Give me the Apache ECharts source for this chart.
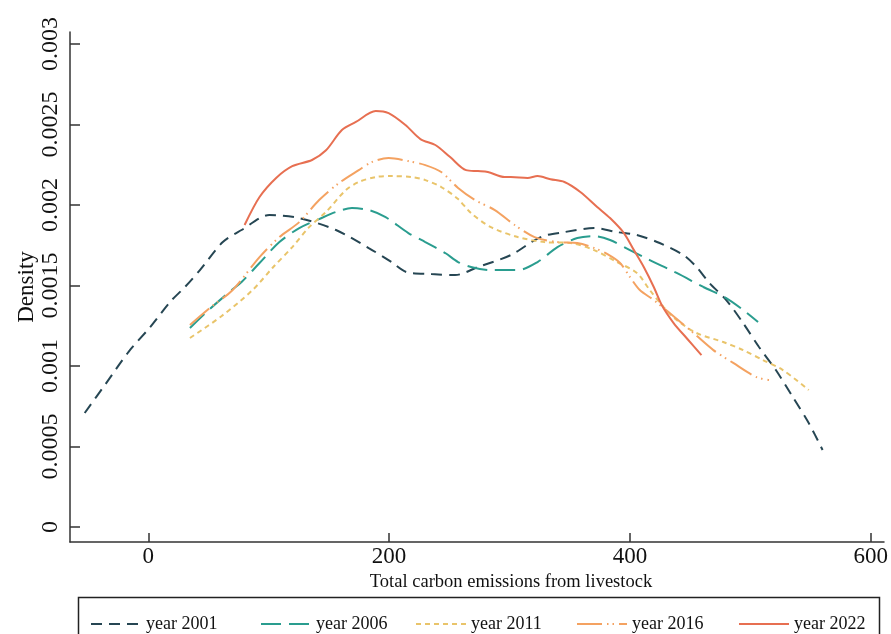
<!DOCTYPE html>
<html>
<head>
<meta charset="utf-8">
<script src="https://cdn.jsdelivr.net/npm/echarts@6/dist/echarts.min.js"></script>
<style>html,body{margin:0;padding:0;background:#fff}#c{width:891px;height:634px}</style>
</head>
<body>
<div id="c"></div>
<script>
// ---- data ----
const seriesNames = ['year 2001', 'year 2006', 'year 2011', 'year 2016', 'year 2022'];

const x2001 = [-52.8,-35.5,-16.5,1.6,18.1,30.5,42.9,61.9,77.5,100.6,125.4,155.9,183.1,202,214.4,235,254.8,273.8,301,325.8,345.6,370.3,389.3,405.8,424.7,444.5,455.3,466,480,494,507.2,521.2,535.3,548.5,560];
const y2001 = [0.000708,0.000888,0.001087,0.001242,0.001398,0.001491,0.001596,0.00177,0.001845,0.001938,0.001919,0.001845,0.001733,0.001646,0.001584,0.001571,0.001565,0.001615,0.001689,0.001801,0.001832,0.001857,0.001832,0.001814,0.001764,0.001689,0.001615,0.001516,0.00141,0.001267,0.001118,0.000975,0.000807,0.000646,0.000478];

const x2006 = [34.6,51.1,69.3,77.5,92.4,108.9,125.4,141.9,155.9,169.1,183.1,197.1,216,230.1,246.6,257.3,268,284.5,306.8,323.3,339.8,356.3,370.3,383.5,400,416.5,438.8,461,480,494,506.4];
const y2006 = [0.001236,0.001354,0.001472,0.001522,0.00164,0.00177,0.001857,0.001913,0.001957,0.001981,0.001969,0.001925,0.001826,0.00177,0.001702,0.001646,0.001615,0.001596,0.001596,0.001646,0.001739,0.001795,0.001807,0.001783,0.00172,0.001658,0.001578,0.001491,0.001422,0.001348,0.001273];

const x2011 = [34.6,61,86.6,103.1,119.6,133.6,147.6,164.1,174.8,188.9,202,218.6,230.1,243.3,257.3,268,284.5,306.8,329.1,350.5,370.3,389.3,405.8,416.5,428,438.8,455.3,477.5,494,510.5,527,548.5];
const y2011 = [0.001174,0.001311,0.001472,0.001609,0.001739,0.001863,0.001957,0.002093,0.002143,0.002174,0.00218,0.002174,0.002155,0.002112,0.002037,0.00195,0.001863,0.001801,0.00177,0.001764,0.00172,0.001646,0.001578,0.001472,0.001366,0.001286,0.001205,0.001149,0.001099,0.001037,0.000975,0.000851];

const x2016 = [34.6,52,70.1,92.4,108.9,125.4,141.9,158.4,174.8,185.6,199.6,216,230.1,243.3,257.3,271.3,287.8,304.3,320.8,339.8,356.3,370.3,381,391.8,400,408.2,419.8,433,452.8,469.3,485.8,504.7,515.5];
const y2016 = [0.001255,0.001366,0.001472,0.001677,0.001801,0.001894,0.002031,0.002137,0.002217,0.002267,0.002292,0.002273,0.002248,0.002205,0.002106,0.002031,0.001969,0.001876,0.001801,0.00177,0.001764,0.001733,0.001696,0.00164,0.001553,0.001472,0.00141,0.001329,0.001205,0.001099,0.001019,0.000932,0.000913];

const x2022 = [80,92.4,106.4,119.6,136,147.6,160.8,172.4,188.9,199.6,213.6,226,238.4,250.7,263.9,273.8,282,296,301,315,323.3,334,345.6,358.8,372.8,383.5,395,403.3,411.5,419.8,426.4,436.3,447,459.4];
const y2022 = [0.001876,0.00205,0.00217,0.002242,0.00228,0.00234,0.002466,0.002516,0.002584,0.002571,0.002497,0.00241,0.002373,0.002298,0.002217,0.002211,0.002205,0.002174,0.002174,0.002168,0.00218,0.00216,0.002143,0.002081,0.001988,0.001919,0.001826,0.00172,0.001615,0.001491,0.001379,0.001267,0.001174,0.001068];

const xTicks = [0, 200, 400, 600];
const xTickLabels = ['0', '200', '400', '600'];
const yTicks = [0, 0.0005, 0.001, 0.0015, 0.002, 0.0025, 0.003];
const yTickLabels = ['0', '0.0005', '0.001', '0.0015', '0.002', '0.0025', '0.003'];

// ---- chart ----
const xs = [x2001, x2006, x2011, x2016, x2022];
const ys = [y2001, y2006, y2011, y2016, y2022];
const colors = ['#264653', '#2a9d8f', '#e9c46a', '#f4a261', '#e76f51'];
const dashes = [[11, 7], [20, 8], [5, 4], [25, 5, 1.5, 4, 1.5, 5], 'solid'];
const legendLeft = [85, 255, 410, 571, 733];
const FONT = '"Liberation Serif", "Times New Roman", serif';

function pick(ticks, labels, v) {
  let best = 0;
  for (let i = 1; i < ticks.length; i++) if (Math.abs(ticks[i] - v) < Math.abs(ticks[best] - v)) best = i;
  return labels[best];
}

const chart = echarts.init(document.getElementById('c'), null, {renderer: 'canvas'});
const series = seriesNames.map((n, i) => ({
  name: n,
  type: 'line',
  data: xs[i].map((x, j) => [x, ys[i][j]]),
  symbol: 'none',
  smooth: 0.3,
  lineStyle: {color: colors[i], width: 2, type: dashes[i]},
  itemStyle: {color: colors[i]},
  z: 2 + i
}));

chart.setOption({
  animation: false,
  backgroundColor: '#fff',
  grid: {left: 70, top: 32, width: 817, height: 510, containLabel: false},
  xAxis: {
    type: 'value', min: -65, max: 611,
    splitLine: {show: false},
    axisLine: {show: true, onZero: false, lineStyle: {color: '#333', width: 1.5}},
    axisTick: {show: true, inside: true, length: 9, customValues: xTicks, lineStyle: {color: '#333', width: 1.5}},
    axisLabel: {customValues: xTicks, margin: 3, fontFamily: FONT, fontSize: 23, color: '#111',
      formatter: v => pick(xTicks, xTickLabels, v)},
    name: 'Total carbon emissions from livestock',
    nameLocation: 'middle', nameGap: 29,
    nameTextStyle: {fontFamily: FONT, fontSize: 18.5, color: '#111', padding: [0, 0, 0, 68]}
  },
  yAxis: {
    type: 'value', min: -0.0000932, max: 0.003075,
    splitLine: {show: false},
    axisLine: {show: true, onZero: false, lineStyle: {color: '#333', width: 1.5}},
    axisTick: {show: true, inside: true, length: 10, customValues: yTicks, lineStyle: {color: '#333', width: 1.5}},
    axisLabel: {customValues: yTicks, rotate: 90, margin: 7, fontFamily: FONT, fontSize: 24, color: '#111',
      formatter: v => pick(yTicks, yTickLabels, v)},
    name: 'Density',
    nameLocation: 'middle', nameGap: 32, nameMoveOverlap: false,
    nameTextStyle: {fontFamily: FONT, fontSize: 23, color: '#111'}
  },
  legend: seriesNames.map((n, i) => ({
    data: [n], left: legendLeft[i], top: 610, orient: 'horizontal',
    itemWidth: 50, itemHeight: 18, itemGap: 0, itemTextGap: 12,
    itemStyle: {opacity: 0},
    textStyle: {fontFamily: FONT, fontSize: 18, color: '#111'},
    selectedMode: false
  })),
  graphic: [{
    type: 'rect', silent: true, z: 0,
    shape: {x: 78.5, y: 597.5, width: 801, height: 80},
    style: {fill: 'none', stroke: '#222', lineWidth: 1.5}
  }],
  series: series
});
</script>
</body>
</html>
